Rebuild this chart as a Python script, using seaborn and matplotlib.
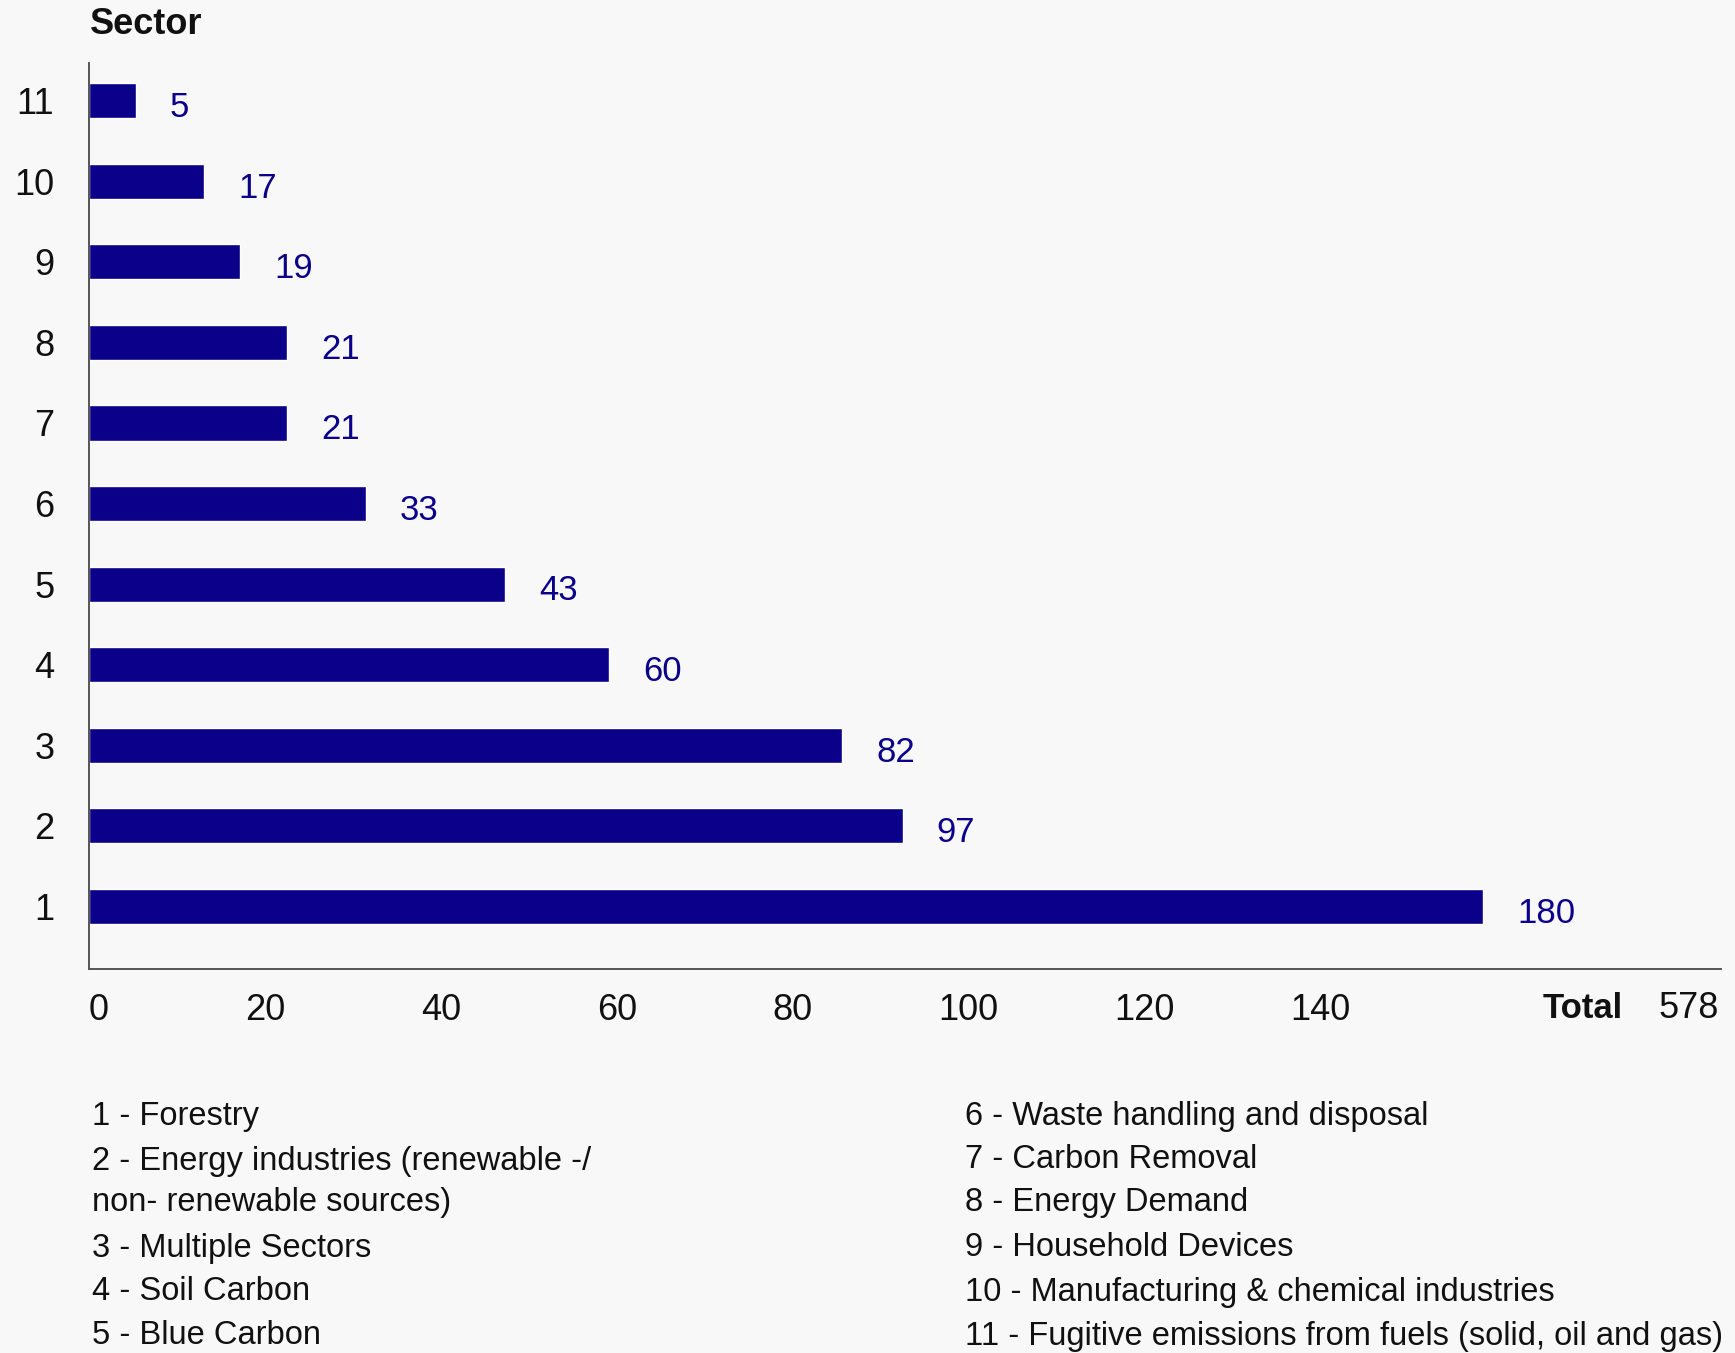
import matplotlib
matplotlib.use("Agg")
import matplotlib.pyplot as plt
import seaborn as sns
import pandas as pd

# ---- data ----
sectors = ["11", "10", "9", "8", "7", "6", "5", "4", "3", "2", "1"]
# displayed counts (labels)
counts = [5, 17, 19, 21, 21, 33, 43, 60, 82, 97, 180]
# bar lengths as drawn against the x axis of the reference
bar_lengths = [5.3, 13.1, 17.2, 22.5, 22.5, 31.5, 47.3, 59.1, 85.6, 92.5, 158.5]
x_ticks = [0, 20, 40, 60, 80, 100, 120, 140]
total_value = 578
legend_left = ["1 - Forestry",
               "2 - Energy industries (renewable -/\nnon- renewable sources)",
               "3 - Multiple Sectors",
               "4 - Soil Carbon",
               "5 - Blue Carbon"]
legend_right = ["6 - Waste handling and disposal",
                "7 - Carbon Removal",
                "8 - Energy Demand",
                "9 - Household Devices",
                "10 - Manufacturing & chemical industries",
                "11 - Fugitive emissions from fuels (solid, oil and gas)"]

BG = "#f8f8f8"
NAVY = "#0b0089"
SPINE = "#555555"
TXT = "#111111"

sns.set_theme(style="white")
plt.rcParams["font.family"] = ["Liberation Sans", "DejaVu Sans"]

fig = plt.figure(figsize=(17.35, 13.53), dpi=100, facecolor=BG)
ax = fig.add_axes([89/1735, 1 - 969/1353, (1721 - 89)/1735, (969 - 63)/1353])
ax.set_facecolor(BG)

df = pd.DataFrame({"sector": sectors, "length": bar_lengths, "count": counts})
sns.barplot(data=df, x="length", y="sector", order=sectors, orient="h",
            color=NAVY, saturation=1, width=0.435, ax=ax)

ax.set_xlim(0, 185.5)
ax.set_ylim(10.78, -0.47)

for i, (length, c) in enumerate(zip(bar_lengths, counts)):
    ax.annotate(str(c), xy=(length, i), xytext=(24.5, -5), textcoords="offset points",
                ha="left", va="center", color=NAVY, fontsize=25)

ax.set_xticks(x_ticks)
ax.set_xticklabels([str(t) for t in x_ticks])
ax.tick_params(axis="x", length=0, pad=17, labelsize=26, labelcolor=TXT)
ax.tick_params(axis="y", length=0, pad=25, labelsize=26, labelcolor=TXT)
ax.get_xticklabels()[0].set_ha("left")
ax.set_xlabel("")
ax.set_ylabel("")

for s in ["top", "right"]:
    ax.spines[s].set_visible(False)
for s in ["left", "bottom"]:
    ax.spines[s].set_color(SPINE)
    ax.spines[s].set_linewidth(1.4)

fig.text(90/1735, 1 - 24/1353, "Sector", fontsize=26, fontweight="bold",
         ha="left", va="center", color=TXT)

fig.text(1623/1735, 1 - 1008/1353, "Total", fontsize=25, fontweight="bold",
         ha="right", va="center", color=TXT)
fig.text(1658/1735, 1 - 1008/1353, str(total_value), fontsize=26,
         ha="left", va="center", color=TXT)

# legend columns
left_rows_y = [1117, 1182, 1248, 1292, 1336]
for txt, y in zip(legend_left, left_rows_y):
    fig.text(92/1735, 1 - y/1353, txt, fontsize=23.5, ha="left", va="center",
             color=TXT, linespacing=1.39)
right_rows_y = [1117, 1160, 1203, 1248, 1292, 1336]
for txt, y in zip(legend_right, right_rows_y):
    fig.text(965/1735, 1 - y/1353, txt, fontsize=23.5, ha="left", va="center",
             color=TXT)

fig.savefig("out.png", dpi=100, facecolor=BG)
